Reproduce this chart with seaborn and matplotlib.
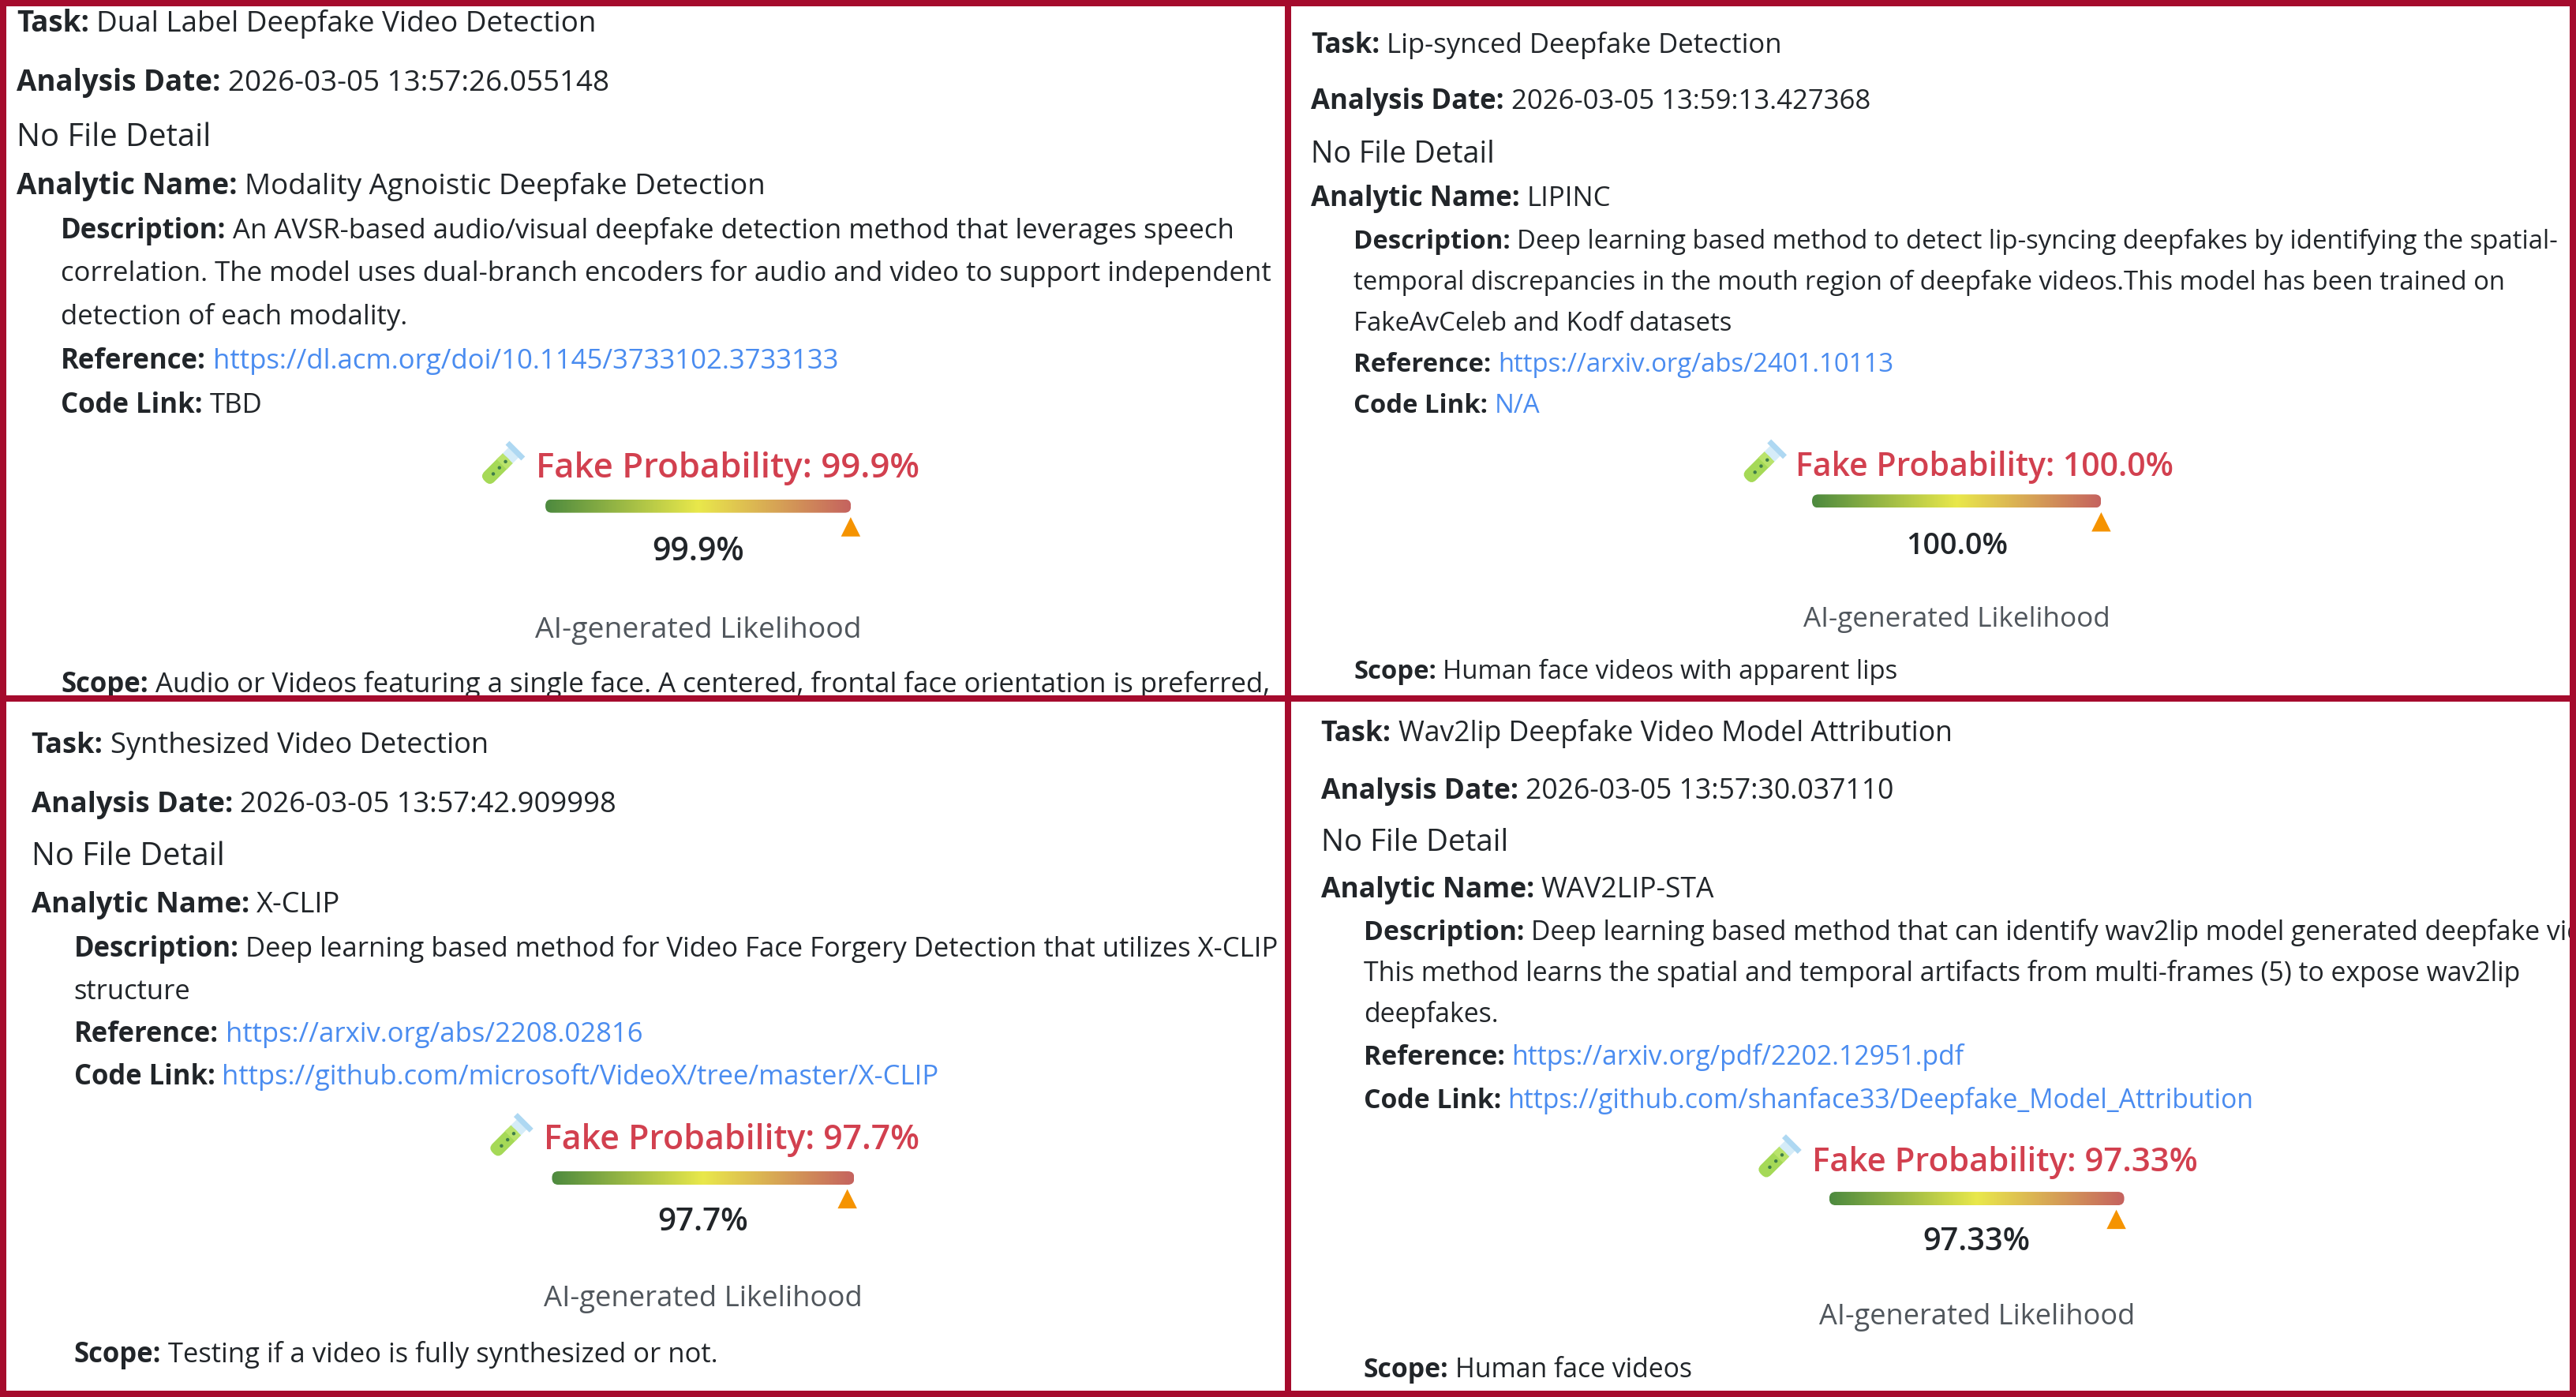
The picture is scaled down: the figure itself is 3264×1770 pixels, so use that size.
import matplotlib
matplotlib.use("Agg")
import matplotlib.pyplot as plt
from matplotlib.patches import Rectangle, FancyBboxPatch, Circle
from matplotlib.transforms import Affine2D
import numpy as np
import seaborn as sns

tasks = ["Dual Label Deepfake Video Detection", "Lip-synced Deepfake Detection",
         "Synthesized Video Detection", "Wav2lip Deepfake Video Model Attribution"]
dates = ["2026-03-05 13:57:26.055148", "2026-03-05 13:59:13.427368",
         "2026-03-05 13:57:42.909998", "2026-03-05 13:57:30.037110"]
analytics = ["Modality Agnoistic Deepfake Detection", "LIPINC", "X-CLIP", "WAV2LIP-STA"]
descriptions = [
    ["An AVSR-based audio/visual deepfake detection method that leverages speech",
     "correlation. The model uses dual-branch encoders for audio and video to support independent",
     "detection of each modality."],
    ["Deep learning based method to detect lip-syncing deepfakes by identifying the spatial-",
     "temporal discrepancies in the mouth region of deepfake videos.This model has been trained on",
     "FakeAvCeleb and Kodf datasets"],
    ["Deep learning based method for Video Face Forgery Detection that utilizes X-CLIP",
     "structure"],
    ["Deep learning based method that can identify wav2lip model generated deepfake videos.",
     "This method learns the spatial and temporal artifacts from multi-frames (5) to expose wav2lip",
     "deepfakes."],
]
references = ["https://dl.acm.org/doi/10.1145/3733102.3733133", "https://arxiv.org/abs/2401.10113",
              "https://arxiv.org/abs/2208.02816", "https://arxiv.org/pdf/2202.12951.pdf"]
code_links = ["TBD", "N/A", "https://github.com/microsoft/VideoX/tree/master/X-CLIP",
              "https://github.com/shanface33/Deepfake_Model_Attribution"]
scopes = ["Audio or Videos featuring a single face. A centered, frontal face orientation is preferred,",
          "Human face videos with apparent lips", "Testing if a video is fully synthesized or not.",
          "Human face videos"]
probabilities = [99.9, 100.0, 97.7, 97.33]
prob_labels = ["99.9%", "100.0%", "97.7%", "97.33%"]

# layout, read in the 1568 wide view of the picture
SCALE = 3264 / 1568
left_x = [10, 798, 19, 804]
indent_x = [37, 824, 45, 830]
head_y = [[13, 49, 82, 112], [26, 60, 92, 119], [452, 488, 520, 549], [445, 480, 511, 540]]
desc_y = [[139, 165, 191], [145, 170, 195], [576, 602], [566, 591, 616]]
ref_y = [218, 220, 628, 642]
code_y = [245, 245, 654, 668]
title_x = [326, 1093, 331, 1103]
title_y = [283, 282, 692, 705]
icon_x = [305, 1073, 310, 1082]
gauge_x = [(332, 518), (1103, 1279), (336, 520), (1113.5, 1293)]
gauge_y = [308, 305, 717, 729.5]
pct_y = [333, 329, 741, 753]
ai_y = [382, 375, 789, 800]
scope_y = [415, 407, 823, 832]

# font sizes per panel, the four screenshots are not at one zoom
head_pt = [26.5, 25.0, 26.1, 25.6]
body_pt = [25.0, 23.7, 24.9, 24.3]
file_pt = [28.8, 27.2, 28.6, 27.7]
title_pt = [31.5, 29.5, 30.9, 30.2]
pct_pt = [29.5, 27.2, 29.0, 28.6]
ai_pt = [26.9, 25.3, 26.3, 26.0]

FRAME = "#a50b2d"
DARK = "#212529"
LINK = "#4a8cf0"
RED = "#d2404f"
GREY = "#50565c"
W, H = 3264, 1770
panels = [(8, 8, 1628, 881), (1636, 8, 3256, 881), (8, 889, 1628, 1762), (1636, 889, 3256, 1762)]

sns.set_theme(style="white")
plt.rcParams["font.family"] = ["Open Sans", "DejaVu Sans"]
gauge_cmap = sns.blend_palette(["#4d8a3f", "#e9e84b", "#c5625f"], as_cmap=True)

fig = plt.figure(figsize=(W / 100, H / 100), dpi=100)
ax = fig.add_axes([0, 0, 1, 1])
ax.set_xlim(0, W)
ax.set_ylim(H, 0)
ax.axis("off")
renderer = fig.canvas.get_renderer()


def put(x, y, s, clip, size, color=DARK, weight="normal", ha="left"):
    t = ax.text(x, y, s, fontsize=size, color=color, fontweight=weight, ha=ha, va="baseline")
    t.set_clip_path(clip)
    t.set_clip_on(True)
    return t


def field(x, center, label, value, clip, size, color=DARK):
    y = center * SCALE + 13
    t = put(x * SCALE, y, label, clip, size, weight="bold")
    box = t.get_window_extent(renderer)
    put(box.x1 + size * 0.35, y, value, clip, size, color=color)


def flask(cx, cy):
    rot = Affine2D().rotate_deg_around(cx, cy, -45) + ax.transData
    ax.add_patch(Rectangle((cx + 6, cy - 9), 18, 18, fc="#d5ecf8", ec="none", transform=rot))
    ax.add_patch(FancyBboxPatch((cx - 29, cy - 9), 41, 18, boxstyle="round,pad=0,rounding_size=8",
                                fc="#a5d957", ec="none", transform=rot))
    ax.add_patch(Rectangle((cx + 1, cy - 9), 11, 18, fc="#b9e36b", ec="none", transform=rot))
    ax.add_patch(Rectangle((cx + 22, cy - 14), 7, 28, fc="#aed8f2", ec="none", transform=rot))
    for k in (-15, -4, 7):
        ax.add_patch(Circle((cx + k, cy + 1), 2.2, fc="#3f7d4a", ec="none", transform=rot))


for i in range(4):
    x0, y0, x1, y1 = panels[i]
    clip = Rectangle((x0, y0), x1 - x0, y1 - y0, transform=ax.transData, fc="none", ec="none")
    ax.add_patch(clip)
    head = head_pt[i]
    body = body_pt[i]
    field(left_x[i], head_y[i][0], "Task:", tasks[i], clip, head)
    field(left_x[i], head_y[i][1], "Analysis Date:", dates[i], clip, head)
    put(left_x[i] * SCALE, head_y[i][2] * SCALE + 14, "No File Detail", clip, file_pt[i])
    field(left_x[i], head_y[i][3], "Analytic Name:", analytics[i], clip, head)
    field(indent_x[i], desc_y[i][0], "Description:", descriptions[i][0], clip, body)
    for line, cy in zip(descriptions[i][1:], desc_y[i][1:]):
        put(indent_x[i] * SCALE, cy * SCALE + 13, line, clip, body)
    field(indent_x[i], ref_y[i], "Reference:", references[i], clip, body, color=LINK)
    field(indent_x[i], code_y[i], "Code Link:", code_links[i], clip, body,
          color=LINK if code_links[i] != "TBD" else DARK)
    field(indent_x[i], scope_y[i], "Scope:", scopes[i], clip, body)

    put(title_x[i] * SCALE, title_y[i] * SCALE + 16, f"Fake Probability: {prob_labels[i]}",
        clip, title_pt[i], color=RED, weight="semibold")
    flask(icon_x[i] * SCALE, title_y[i] * SCALE)
    mid = sum(gauge_x[i]) / 2 * SCALE
    put(mid, pct_y[i] * SCALE + 17, prob_labels[i], clip, pct_pt[i], weight="semibold", ha="center")
    put(mid, ai_y[i] * SCALE + 13, "AI-generated Likelihood", clip, ai_pt[i], color=GREY, ha="center")

    # gauge: its own axes running from 0 to 100 percent
    gx0, gx1 = gauge_x[i][0] * SCALE, gauge_x[i][1] * SCALE
    gy = gauge_y[i] * SCALE
    gax = fig.add_axes([gx0 / W, 1 - (gy + 8.5) / H, (gx1 - gx0) / W, 17 / H])
    im = gax.imshow(np.linspace(0, 1, 256)[None, :], cmap=gauge_cmap, aspect="auto", extent=(0, 100, 0, 1))
    bar_clip = FancyBboxPatch((gx0, gy - 8.5), gx1 - gx0, 17, boxstyle="round,pad=0,rounding_size=8",
                              transform=ax.transData, fc="none", ec="none")
    ax.add_patch(bar_clip)
    im.set_clip_path(bar_clip)
    sns.scatterplot(x=[probabilities[i]], y=[-1.05], ax=gax, marker="^", s=310, color="#f59300",
                    edgecolor="none", clip_on=False, legend=False)
    gax.set_xlim(0, 100)
    gax.set_ylim(0, 1)
    gax.axis("off")

# red frame around and between the four panels
for rect in [(0, 0, W, 8), (0, H - 8, W, 8), (0, 0, 8, H), (W - 8, 0, 8, H), (1628, 0, 8, H), (0, 881, W, 8)]:
    ax.add_patch(Rectangle(rect[:2], rect[2], rect[3], fc=FRAME, ec="none", zorder=5))

fig.savefig("out.png", dpi=100)
